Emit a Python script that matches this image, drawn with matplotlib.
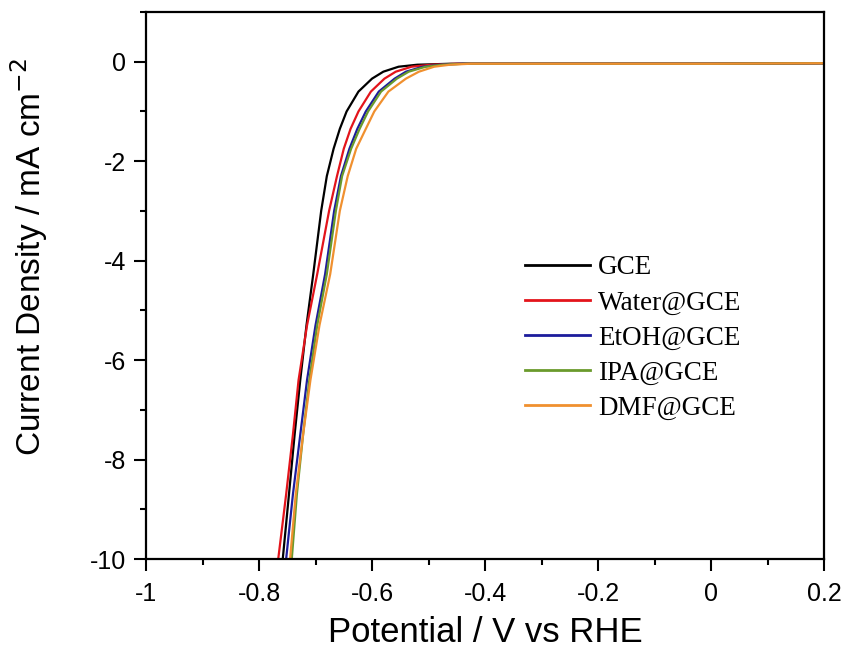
import matplotlib
matplotlib.use("Agg")
import matplotlib.pyplot as plt
from matplotlib.ticker import MultipleLocator

# LSV curves: current density (mA cm-2) vs potential (V vs RHE)
labels = ["GCE", "Water@GCE", "EtOH@GCE", "IPA@GCE", "DMF@GCE"]
colors = ["#000000", "#e3141b", "#1c1c9c", "#6a9a2c", "#f0902f"]

current = [-10.0, -8.7, -7.5, -6.4, -5.3, -4.27, -3.0, -2.3, -1.75, -1.35,
           -1.0, -0.6, -0.34, -0.2, -0.1, -0.06, -0.04, -0.04, -0.03]

pot_gce = [-0.758, -0.747, -0.737, -0.727, -0.716, -0.704, -0.690, -0.680, -0.668, -0.657,
           -0.645, -0.624, -0.600, -0.580, -0.553, -0.520, -0.460, 0.0, 0.2]
pot_water = [-0.766, -0.752, -0.740, -0.730, -0.715, -0.697, -0.676, -0.662, -0.650, -0.638,
             -0.624, -0.602, -0.578, -0.558, -0.530, -0.495, -0.450, 0.0, 0.2]
pot_etoh = [-0.752, -0.740, -0.727, -0.715, -0.700, -0.683, -0.667, -0.655, -0.640, -0.626,
            -0.611, -0.588, -0.560, -0.540, -0.510, -0.480, -0.440, 0.0, 0.2]
pot_ipa = [-0.742, -0.733, -0.722, -0.711, -0.697, -0.680, -0.664, -0.653, -0.637, -0.622,
           -0.607, -0.584, -0.556, -0.535, -0.505, -0.475, -0.435, 0.0, 0.2]
pot_dmf = [-0.745, -0.735, -0.722, -0.709, -0.693, -0.674, -0.657, -0.643, -0.628, -0.611,
           -0.596, -0.571, -0.540, -0.517, -0.490, -0.462, -0.425, 0.0, 0.2]

potentials = [pot_gce, pot_water, pot_etoh, pot_ipa, pot_dmf]

fig = plt.figure(figsize=(8.48, 6.6), dpi=100)
ax = fig.add_axes([0.1722, 0.153, 0.7995, 0.8288])

for pot, lab, col in zip(potentials, labels, colors):
    ax.plot(pot, current, color=col, lw=1.6, label=lab)

ax.set_xlim(-1, 0.2)
ax.set_ylim(-10, 1)
ax.xaxis.set_minor_locator(MultipleLocator(0.1))
ax.yaxis.set_minor_locator(MultipleLocator(1))
ax.set_xticks([-1, -0.8, -0.6, -0.4, -0.2, 0, 0.2])
ax.set_xticklabels(["-1", "-0.8", "-0.6", "-0.4", "-0.2", "0", "0.2"])
ax.set_yticks([0, -2, -4, -6, -8, -10])
ax.set_yticklabels(["0", "-2", "-4", "-6", "-8", "-10"])

for s in ax.spines.values():
    s.set_linewidth(1.6)
ax.tick_params(which="major", direction="out", length=8.5, width=1.5,
               labelsize=18, top=False, right=False)
ax.tick_params(axis="x", which="major", pad=8)
ax.tick_params(axis="y", which="major", pad=6)
ax.tick_params(which="minor", direction="out", length=4.5, width=1.5,
               top=False, right=False)
for t in ax.get_xticklabels() + ax.get_yticklabels():
    t.set_family("Liberation Sans")

ax.set_xlabel("Potential / V vs RHE", fontsize=25, family="Liberation Sans")
ax.set_ylabel("Current Density / mA cm$^{-2}$", fontsize=24, family="Liberation Sans")
ax.xaxis.set_label_coords(0.5, -0.105)
ax.yaxis.set_label_coords(-0.142, 0.552)

leg = ax.legend(loc="upper left", bbox_to_anchor=(0.559, 0.555), frameon=False,
                prop={"family": "Liberation Serif", "size": 19.5},
                handlelength=2.4, handletextpad=0.3, labelspacing=0.37,
                borderpad=0, borderaxespad=0)
for line in leg.get_lines():
    line.set_linewidth(2.0)

fig.savefig("out.png", dpi=100)
